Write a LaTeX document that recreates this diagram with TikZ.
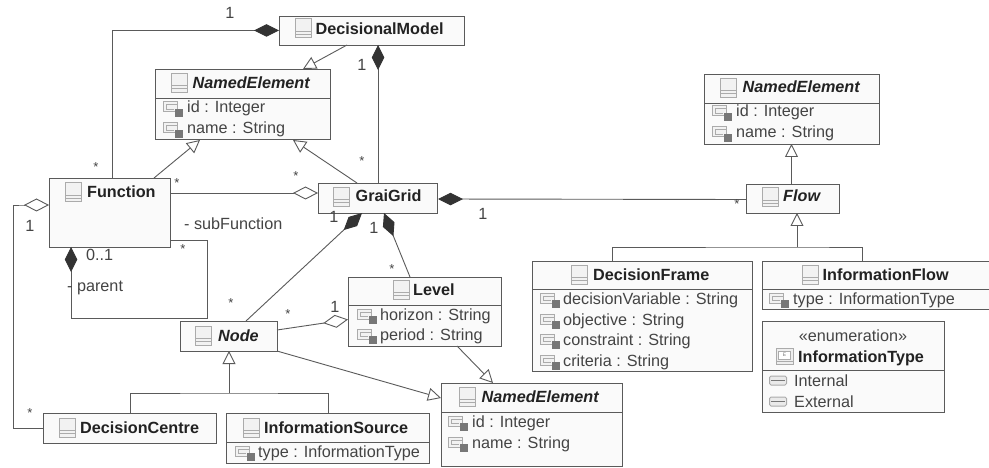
\documentclass[tikz,border=0pt]{standalone}
\usepackage{fontspec}
\setmainfont{Liberation Sans}
\usetikzlibrary{arrows.meta,calc}
\definecolor{edge}{HTML}{5A5A5A}
\definecolor{ink}{HTML}{222222}
\definecolor{attr}{HTML}{444444}
\definecolor{fillbox}{HTML}{FAFAFA}
\definecolor{ico}{HTML}{ABABAB}
\definecolor{icodark}{HTML}{777777}
\definecolor{dia}{HTML}{333333}
\tikzset{
 umlbox/.style={draw=edge,fill=fillbox,line width=0.9pt,inner sep=0pt,outer sep=0pt,anchor=north west},
 divider/.style={draw=edge,line width=0.8pt},
 ttl/.style={anchor=base west,inner sep=0pt,font=\fontsize{16.2}{16}\selectfont\bfseries,text=ink},
 ttli/.style={ttl,font=\fontsize{16.2}{16}\selectfont\bfseries\itshape},
 atr/.style={anchor=base west,inner sep=0pt,font=\fontsize{16.2}{16}\selectfont,text=attr},
 lbl/.style={inner sep=0pt,font=\fontsize{16.2}{16}\selectfont,text=attr},
 star/.style={inner sep=0pt,font=\fontsize{13}{13}\selectfont,text=attr},
 conn/.style={draw=edge,line width=0.9pt},
 comp/.style={conn,arrows={Diamond[length=25pt,width=12.5pt,fill=dia,color=dia]-}},
 agg/.style={conn,arrows={Diamond[length=25pt,width=13pt,fill=white]-}},
 gen/.style={conn,arrows={-Triangle[length=13pt,width=13pt,fill=white]}},
 pics/cls/.style={code={
   \draw[ico,fill=ico!15,line width=1pt] (-8,-9.5) rectangle (8,9.5);
   \draw[ico,line width=1pt] (-8,3) -- (8,3) (-8,6) -- (8,6);}},
 pics/atricon/.style={code={
   \draw[ico,fill=ico!15,line width=1pt] (-10,-6) rectangle (4,4);
   \draw[ico,line width=1pt] (4,-3) -- (-7,-3) -- (-7,1.5) -- (1,1.5);
   \fill[icodark] (1.5,1) rectangle (10,9);}},
 pics/enumicon/.style={code={
   \draw[ico,fill=ico!20,line width=1pt] (-8.5,-8) rectangle (8.5,8);
   \draw[ico,fill=white,line width=0.7pt] (-6,-5) rectangle (6,3);
   \node[inner sep=0pt,font=\fontsize{5}{5}\selectfont,text=icodark] (enumglyph) at (0,-1) {E};
   \draw[ico,line width=1pt] (-8.5,5.5) -- (8.5,5.5);}},
 pics/lit/.style={code={
   \draw[ico,fill=ico!25,line width=1pt,rounded corners=1.5pt] (-8.5,-4.5) rectangle (8.5,4.5);
   \draw[icodark,line width=1.2pt] (-7,0) -- (7,0);}},
}
\newcommand{\umlb}[5]{%
 \path let \n1={#4-#2},\n2={#5-#3} in node[umlbox,minimum width=\n1 pt,minimum height=\n2 pt] (#1) at (#2,#3) {};}
\begin{document}
\begin{tikzpicture}[x=1pt,y=-1pt]
\useasboundingbox (0,0) rectangle (989,468);
\clip (0,0) rectangle (989,468);
\fill[white] (0,0) rectangle (989,468);

% boxes
\umlb{dm}{279}{16}{464}{45}
\umlb{neA}{155}{69}{330}{139}
\umlb{fn}{49}{178}{170}{247}
\umlb{gg}{318}{183}{437}{213}
\umlb{lv}{348}{277}{501}{346}
\umlb{nd}{180}{321}{277}{351}
\umlb{neC}{441}{383}{622}{466}
\umlb{dc}{43}{413}{216}{443}
\umlb{is}{226}{413}{429}{463}
\umlb{neB}{704}{74}{879}{144}
\umlb{fl}{746}{184}{839}{213}
\umlb{df}{532}{261}{752}{371}
\umlb{if}{762}{261}{1000}{309.5}
\umlb{it}{762}{321}{944}{412}

% dividers
\draw[divider] (neA.west |- 0,98) -- (neA.east |- 0,98);
\draw[divider] (lv.west |- 0,305) -- (lv.east |- 0,305);
\draw[divider] (neC.west |- 0,412) -- (neC.east |- 0,412);
\draw[divider] (is.west |- 0,442) -- (is.east |- 0,442);
\draw[divider] (neB.west |- 0,103) -- (neB.east |- 0,103);
\draw[divider] (df.west |- 0,289) -- (df.east |- 0,289);
\draw[divider] (if.west |- 0,289) -- (if.east |- 0,289);
\draw[divider] (it.west |- 0,370) -- (it.east |- 0,370);

% class icons
\pic at (303,28.5) {cls};
\pic at (179,83) {cls};
\pic at (73,192.5) {cls};
\pic at (341,197) {cls};
\pic at (401,289.5) {cls};
\pic at (203,335.5) {cls};
\pic at (467.5,396.5) {cls};
\pic at (67,427.5) {cls};
\pic at (251,427.5) {cls};
\pic at (728,88) {cls};
\pic at (770,197.5) {cls};
\pic at (579.5,274.5) {cls};
\pic at (810,274.5) {cls};
\pic at (784.5,356) {enumicon};

% titles
\node[ttl] (tdm) at (315.5,34.5) {DecisionalModel};
\node[ttli] (tneA) at (192.5,88.5) {NamedElement};
\node[ttl] (tfn) at (87,198) {Function};
\node[ttl] (tgg) at (355.5,202) {GraiGrid};
\node[ttl] (tlv) at (413,295) {Level};
\node[ttli] (tnd) at (218,341) {Node};
\node[ttli] (tneC) at (481.5,402) {NamedElement};
\node[ttl] (tdc) at (80,433) {DecisionCentre};
\node[ttl] (tis) at (264,433) {InformationSource};
\node[ttli] (tneB) at (742.5,93) {NamedElement};
\node[ttli] (tfl) at (783,202) {Flow};
\node[ttl] (tdf) at (593,280) {DecisionFrame};
\node[ttl] (tif) at (822.5,280) {InformationFlow};
\node[ttl] (tit) at (798,362) {InformationType};
\node[atr,anchor=base] (enumst) at (853,341) {«enumeration»};

% attributes
\foreach \nm/\ix/\tx/\by/\txt in {
 a1/173/187/113/{id : Integer},
 a2/173/187/134/{name : String},
 a3/367/380/320/{horizon : String},
 a4/367/380/340/{period : String},
 a5/458/472/427/{id : Integer},
 a6/458/472/448/{name : String},
 a7/245/258/457/{type : InformationType},
 a8/722/736/117/{id : Integer},
 a9/722/736/138/{name : String},
 a10/550/563/304/{decisionVariable : String},
 a11/550/563/325/{objective : String},
 a12/550/563/345/{constraint : String},
 a13/550/563/366/{criteria : String},
 a14/779/793/304/{type : InformationType}}{
 \pic at (\ix,\by-5) {atricon};
 \node[atr] (\nm) at (\tx,\by) {\txt};
}
\pic at (778,380.5) {lit};
\node[atr] (lit1) at (794,386) {Internal};
\pic at (778,401.5) {lit};
\node[atr] (lit2) at (794,407) {External};

% connectors
\draw[comp] (dm.west) -- ++(-25,0) -| ($(fn.north west)+(63,0)$);
\draw[gen] ($(dm.south west)+(68,0)$) -- ($(neA.north west)+(148,0)$);
\draw[comp] ($(dm.south west)+(99,0)$) -- ($(gg.north west)+(60,0)$);
\draw[gen] ($(fn.north west)+(105,0)$) -- ($(neA.south west)+(45,1)$);
\draw[gen] ($(gg.north west)+(39,0)$) -- ($(neA.south east)+(-37,1)$);
\draw[agg] ($(gg.west)+(0,-5)$) -- ($(fn.north east)+(0,15)$);
\draw[comp] ($(gg.east)+(1,1)$) -- ($(fl.west)+(0,1)$);
\draw[comp] ($(gg.south west)+(44,0)$) -- ($(nd.north west)+(66,0)$);
\draw[comp] ($(gg.south west)+(66,0)$) -- ($(lv.north west)+(62,0)$);
\draw[comp] ($(fn.south west)+(22,0)$) -- ++(0,71) -| ($(fn.south east)+(37,-7)$) -- ($(fn.south east)+(0,-7)$);
\draw[agg] ($(fn.north west)+(0,27)$) -- ++(-25,0) -- ++(-11,0) |- (dc.west);
\draw[agg] ($(lv.west)+(0,8)$) -- ($(nd.east)+(0,-6)$);
\draw[gen] (nd.south east) -- ($(neC.north west)+(0,15)$);
\draw[gen] ($(lv.south west)+(109,0)$) -- ($(neC.north west)+(52,0)$);
\coordinate (jn) at (229,393);
\draw[gen] (jn) -- (jn |- nd.south);
\draw[conn] ($(dc.north west)+(87,0)$) |- (jn) -| ($(is.north west)+(102,0)$);
\draw[gen] (fl.north -| neB.south) -- (neB.south);
\coordinate (jr) at (797,247);
\draw[gen] (jr) -- (jr |- fl.south);
\draw[conn] ($(df.north west)+(80,0)$) |- (jr) -| ($(if.north west)+(100,0)$);

% multiplicity and role labels
\node[lbl] (m1) at (230,13) {1};
\node[star] (m2) at (96,167) {*};
\node[lbl] (m3) at (362,65) {1};
\node[star] (m4) at (362,161) {*};
\node[star] (m5) at (177,183) {*};
\node[star] (m6) at (296,176) {*};
\node[lbl] (m7) at (30,226) {1};
\node[lbl,anchor=west] (r1) at (184,224) {- subFunction};
\node[lbl] (m8) at (334,217) {1};
\node[lbl] (m9) at (374,228) {1};
\node[lbl] (m10) at (483,214) {1};
\node[star] (m11) at (737,204) {*};
\node[star] (m12) at (183,249) {*};
\node[lbl,anchor=west] (m13) at (86,255) {0..1};
\node[lbl,anchor=west] (r2) at (67,288) {- parent};
\node[star] (m14) at (231,303) {*};
\node[star] (m15) at (392,269) {*};
\node[star] (m16) at (288,314) {*};
\node[lbl] (m17) at (335,307) {1};
\node[star] (m18) at (30,413) {*};
\end{tikzpicture}
\end{document}
